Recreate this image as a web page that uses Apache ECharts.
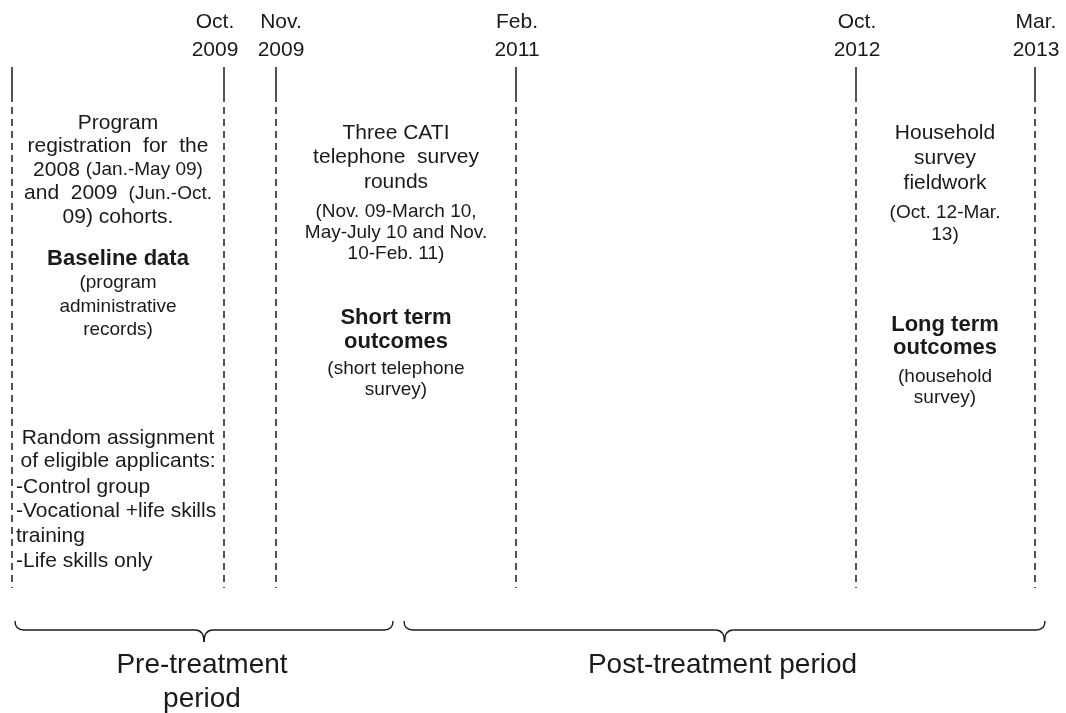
<!DOCTYPE html>
<html>
<head>
<meta charset="utf-8">
<script src="https://cdn.jsdelivr.net/npm/echarts@6/dist/echarts.min.js"></script>
<style>
  html, body { margin: 0; padding: 0; background: #fff; }
  #chart { width: 1066px; height: 713px; }
</style>
</head>
<body>
<div id="chart"></div>
<script>
// timeline markers (position along the hidden timeline axis)
var markerPos = [12, 224, 276, 516, 856, 1035];
var markerMonth = ['', 'Oct.', 'Nov.', 'Feb.', 'Oct.', 'Mar.'];
var markerYear = ['', '2009', '2009', '2011', '2012', '2013'];
var markerShift = [0, -9, 5, 1, 1, 1];

// periods (braces at the bottom)
var periodNames = ['Pre-treatment\nperiod', 'Post-treatment period'];
var periodFrom = [15, 404];
var periodTo = [393, 1045];

// text blocks: x, y of first line, line step, align, style, lines
var blocks = [
    [118, 123, 23.5, 'center', 'n', ['Program', 'registration  for  the', '{n|2008 }{s|(Jan.-May 09)}', '{n|and  2009 }{s| (Jun.-Oct.}', '{n|09) cohorts.}']],
    [118, 259, 24, 'center', 'b', ['Baseline data']],
    [118, 283, 23.5, 'center', 's', ['(program', 'administrative', 'records)']],
    [118, 438, 23.5, 'center', 'n', ['Random assignment', 'of eligible applicants:']],
    [16, 487, 24.7, 'left', 'n', ['-Control group', '-Vocational +life skills', 'training', '-Life skills only']],
    [396, 133, 24.5, 'center', 'n', ['Three CATI', 'telephone  survey', 'rounds']],
    [396, 212, 21, 'center', 's', ['(Nov. 09-March 10,', 'May-July 10 and Nov.', '10-Feb. 11)']],
    [396, 318, 24, 'center', 'b', ['Short term', 'outcomes']],
    [396, 369, 21, 'center', 's', ['(short telephone', 'survey)']],
    [945, 133, 25, 'center', 'n', ['Household', 'survey', 'fieldwork']],
    [945, 213, 22, 'center', 's', ['(Oct. 12-Mar.', '13)']],
    [945, 325, 23, 'center', 'b', ['Long term', 'outcomes']],
    [945, 377, 21, 'center', 's', ['(household', 'survey)']]
];

var FONT = '"Liberation Sans", Arial, sans-serif';
var INK = '#1a1a1a';
var styles = {
    n: { fontSize: 21, fontWeight: 'normal' },
    s: { fontSize: 19, fontWeight: 'normal' },
    b: { fontSize: 22, fontWeight: 'bold' }
};
var rich = {
    n: { fontSize: 21, fontFamily: FONT, color: INK },
    s: { fontSize: 19, fontFamily: FONT, color: INK }
};

var textLines = [];
blocks.forEach(function (b) {
    b[5].forEach(function (t, i) {
        textLines.push({ x: b[0], y: b[1] + i * b[2], align: b[3], st: b[4], text: t });
    });
});

var chart = echarts.init(document.getElementById('chart'));

function renderMarker(params, api) {
    var i = params.dataIndex;
    var x = api.value(0);
    var a = api.coord([x, 67]);
    var b = api.coord([x, 102]);
    var c = api.coord([x, 107]);
    var d = api.coord([x, 588]);
    var lab = api.coord([x + markerShift[i], 8]);
    var lineStyle = { stroke: INK, lineWidth: 1.5 };
    return {
        type: 'group',
        children: [
            { type: 'line', shape: { x1: a[0], y1: a[1], x2: b[0], y2: b[1] }, style: lineStyle },
            { type: 'line', shape: { x1: c[0], y1: c[1], x2: d[0], y2: d[1] },
              style: { stroke: INK, lineWidth: 1.5, lineDash: [7, 5] } },
            { type: 'text', x: lab[0], y: lab[1],
              style: { text: markerMonth[i] ? markerMonth[i] + '\n' + markerYear[i] : '',
                       fontSize: 21, fontFamily: FONT, fill: INK, lineHeight: 28,
                       textAlign: 'center', textVerticalAlign: 'top' } }
        ]
    };
}

function renderBrace(params, api) {
    var i = params.dataIndex;
    var x0 = api.value(0), x1 = api.value(1);
    var mid = (x0 + x1) / 2;
    var yEnd = 621, yLine = 630, yTip = 642, r = 9;
    function P(x, y) { return api.coord([x, y]); }
    var st = { stroke: INK, lineWidth: 1.4, fill: null };
    function curve(p1, cp, p2) {
        return { type: 'bezierCurve',
                 shape: { x1: p1[0], y1: p1[1], cpx1: cp[0], cpy1: cp[1], x2: p2[0], y2: p2[1] },
                 style: st };
    }
    function seg(p1, p2) {
        return { type: 'line', shape: { x1: p1[0], y1: p1[1], x2: p2[0], y2: p2[1] }, style: st };
    }
    var lab = P(mid - 2, 648);
    return {
        type: 'group',
        children: [
            curve(P(x0, yEnd), P(x0, yLine), P(x0 + r, yLine)),
            seg(P(x0 + r, yLine), P(mid - r, yLine)),
            curve(P(mid - r, yLine), P(mid, yLine), P(mid, yTip)),
            curve(P(mid, yTip), P(mid, yLine), P(mid + r, yLine)),
            seg(P(mid + r, yLine), P(x1 - r, yLine)),
            curve(P(x1 - r, yLine), P(x1, yLine), P(x1, yEnd)),
            { type: 'text', x: lab[0], y: lab[1],
              style: { text: periodNames[i], fontSize: 28, fontFamily: FONT, fill: INK,
                       lineHeight: 34, textAlign: 'center', textVerticalAlign: 'top' } }
        ]
    };
}

function renderText(params, api) {
    var t = textLines[params.dataIndex];
    var p = api.coord([api.value(0), api.value(1)]);
    var s = styles[t.st];
    return {
        type: 'text', x: p[0], y: p[1],
        style: { text: t.text, rich: rich, fontSize: s.fontSize, fontWeight: s.fontWeight,
                 fontFamily: FONT, fill: INK, textAlign: t.align, textVerticalAlign: 'middle' }
    };
}

var option = {
    backgroundColor: '#fff',
    animation: false,
    grid: { left: 0, right: 0, top: 0, bottom: 0 },
    xAxis: { type: 'value', min: 0, max: 1066, show: false },
    yAxis: { type: 'value', min: 0, max: 713, inverse: true, show: false },
    series: [
        {
            type: 'custom', clip: false, renderItem: renderMarker,
            data: markerPos.map(function (x) { return [x, 0]; })
        },
        {
            type: 'custom', clip: false, renderItem: renderBrace,
            data: periodFrom.map(function (x, i) { return [x, periodTo[i]]; }),
            encode: { x: [0, 1] }
        },
        {
            type: 'custom', clip: false, renderItem: renderText,
            data: textLines.map(function (t) { return [t.x, t.y]; })
        }
    ]
};
chart.setOption(option);
</script>
</body>
</html>
